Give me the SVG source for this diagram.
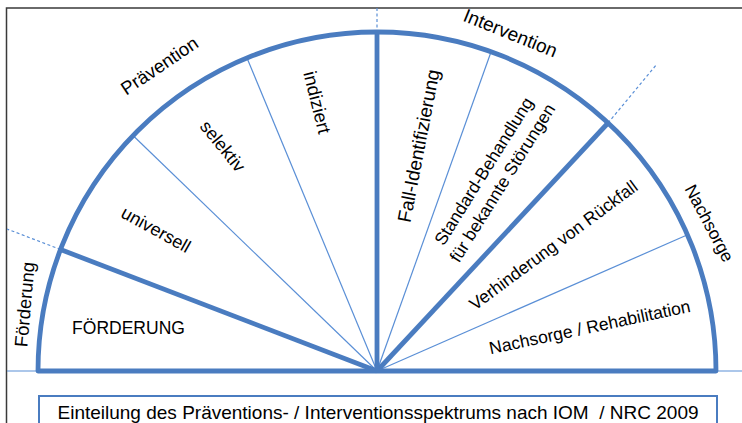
<svg xmlns="http://www.w3.org/2000/svg" width="742" height="423" viewBox="0 0 742 423">
<style>
.thick{fill:none;stroke:#4a7cc0;stroke-width:4.8;stroke-linejoin:round}
.thin{fill:none;stroke:#5a8fd6;stroke-width:1.2}
.dash{fill:none;stroke:#5a8fd6;stroke-width:1.2;stroke-dasharray:3 2.5}
.frame{fill:none;stroke:#3a3a3a;stroke-width:1.5}
text{font-family:"Liberation Sans",Arial,sans-serif;font-size:17.5px;fill:#000;text-anchor:middle}
.big{font-size:19px;white-space:pre}
</style>
<rect width="742" height="423" fill="#fff"/>
<path class="frame" d="M6.5 423 V8 H742"/>
<g id="connectors">
<line class="thin" x1="7" y1="371" x2="742" y2="371"/>
<line class="dash" x1="377" y1="8" x2="377" y2="32"/>
<line class="dash" x1="60.5" y1="249.5" x2="7" y2="229"/>
<line class="dash" x1="608" y1="123" x2="657" y2="64"/>
<line class="thin" x1="377" y1="371" x2="133" y2="135.5"/>
<line class="thin" x1="377" y1="371" x2="247" y2="58"/>
<line class="thin" x1="377" y1="371" x2="491" y2="52"/>
<line class="thin" x1="377" y1="371" x2="687" y2="235"/>
<line class="thick" x1="377" y1="371" x2="60.5" y2="249.5"/>
<line class="thick" x1="377" y1="371" x2="608" y2="123"/>
<line class="thick" x1="377" y1="371" x2="377" y2="32"/>
<path class="thick" d="M38 371 A339 339 0 0 1 716 371 Z"/>
</g>
<g id="foerderung-label"><text transform="translate(31 305) rotate(-85)" style="font-size:18.5px">Förderung</text></g>
<g id="praevention-label"><text transform="translate(163 71) rotate(-34)" style="font-size:18.5px">Prävention</text></g>
<g id="intervention-label"><text transform="translate(508 39) rotate(22)" style="font-size:19px">Intervention</text></g>
<g id="nachsorge-label"><text transform="translate(704 226) rotate(62)">Nachsorge</text></g>
<g id="foerderung"><text x="128.5" y="334">FÖRDERUNG</text></g>
<g id="universell"><text transform="translate(153 235) rotate(29)" style="font-size:18px">universell</text></g>
<g id="selektiv"><text transform="translate(218 150) rotate(51)" style="font-size:18px">selektiv</text></g>
<g id="indiziert"><text transform="translate(311 104) rotate(76)" style="font-size:18.5px">indiziert</text></g>
<g id="fall"><text transform="translate(425 147) rotate(-79)" style="font-size:19px">Fall-Identifizierung</text></g>
<g id="standard"><text transform="translate(493 177) rotate(-58)"><tspan x="0" y="-5">Standard-Behandlung</tspan><tspan x="0" y="17">für bekannte Störungen</tspan></text></g>
<g id="rueckfall"><text transform="translate(557 250) rotate(-36.6)">Verhinderung von Rückfall</text></g>
<g id="rehab"><text transform="translate(591 333) rotate(-12)">Nachsorge / Rehabilitation</text></g>
<g id="caption">
<rect x="39" y="396" width="678" height="40" fill="none" stroke="#4a7cc0" stroke-width="2"/>
<text class="big" x="378" y="419">Einteilung des Präventions- / Interventionsspektrums nach IOM  / NRC 2009</text>
</g>
</svg>
